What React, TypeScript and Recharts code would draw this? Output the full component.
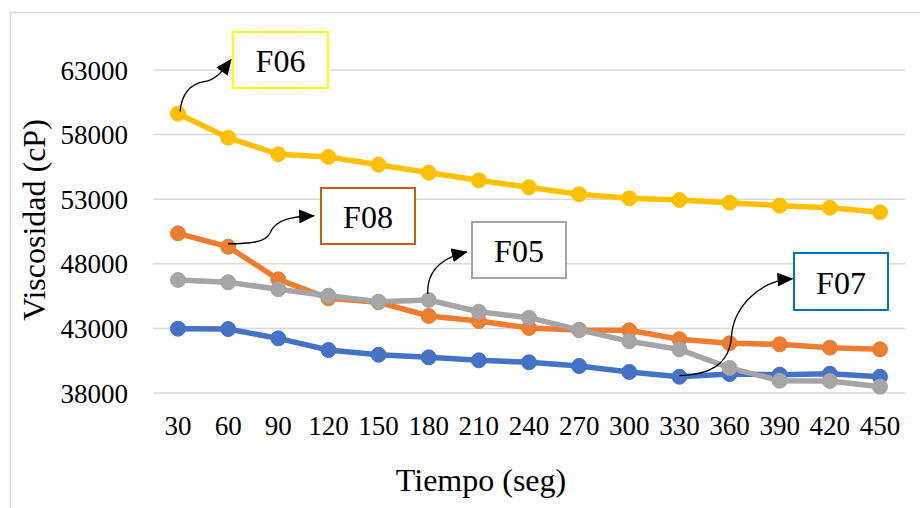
import { LineChart, Line, XAxis, YAxis, CartesianGrid } from "recharts";

// Viscosity (cP) readings over time (s) for four formulations
const tiempo = [30, 60, 90, 120, 150, 180, 210, 240, 270, 300, 330, 360, 390, 420, 450];
const f07 = [42980, 42950, 42230, 41330, 40960, 40760, 40530, 40380, 40090, 39630, 39260, 39470, 39420, 39490, 39260];
const f08 = [50360, 49320, 46800, 45330, 45020, 43960, 43570, 43030, 42880, 42850, 42160, 41850, 41770, 41510, 41380];
const f06 = [59620, 57760, 56480, 56270, 55670, 55050, 54460, 53920, 53380, 53070, 52940, 52730, 52500, 52340, 51990];
const f05 = [46750, 46570, 46030, 45530, 45070, 45200, 44290, 43830, 42880, 42000, 41380, 39940, 38950, 38930, 38490];

const yTicks = [38000, 43000, 48000, 53000, 58000, 63000];

const W = 920;
const H = 508;
const M = { top: 70, right: 15, left: 0, bottom: 0 };
const Y_AXIS_W = 153;
const X_AXIS_H = 115;
const FONT = '"Liberation Serif", "Times New Roman", serif';

const data = tiempo.map((t, i) => ({
  t,
  F07: f07[i],
  F08: f08[i],
  F06: f06[i],
  F05: f05[i],
}));

// plot box, used to pin callout arrows to their points
const plotLeft = M.left + Y_AXIS_W;
const plotRight = W - M.right;
const plotTop = M.top;
const plotBottom = H - M.bottom - X_AXIS_H;
const PAD = 25;
const step = (plotRight - plotLeft - 2 * PAD) / (tiempo.length - 1);
const px = (i: number) => plotLeft + PAD + step * i;
const py = (v: number) =>
  plotTop + ((yTicks[yTicks.length - 1] - v) / (yTicks[yTicks.length - 1] - yTicks[0])) * (plotBottom - plotTop);

function Callout({ x, y, w, h, color, text }: { x: number; y: number; w: number; h: number; color: string; text: string }) {
  return (
    <g>
      <rect x={x} y={y} width={w} height={h} fill="#fff" stroke={color} strokeWidth={2} />
      <text x={x + w / 2} y={y + h / 2 + 1} textAnchor="middle" dominantBaseline="central" fontSize={32} fontFamily={FONT} fill="#000">
        {text}
      </text>
    </g>
  );
}

export default function App() {
  const a06 = { x: px(0), y: py(f06[0]) };
  const a08 = { x: px(1), y: py(f08[1]) };
  const a05 = { x: px(5), y: py(f05[5]) };
  const a07 = { x: px(10), y: py(f07[10]) };

  const series = [
    { key: "F07", color: "#4472C4" },
    { key: "F08", color: "#ED7D31" },
    { key: "F06", color: "#FFC000" },
    { key: "F05", color: "#A5A5A5" },
  ];

  return (
    <div style={{ position: "absolute", left: 0, top: 0, width: W, height: H, background: "#fff" }}>
      <LineChart width={W} height={H} data={data} margin={M}>
        <CartesianGrid vertical={false} stroke="#D9D9D9" strokeWidth={1.5} />
        <XAxis
          dataKey="t"
          height={X_AXIS_H}
          axisLine={false}
          tickLine={false}
          tickSize={0}
          tickMargin={23}
          interval={0}
          padding={{ left: PAD, right: PAD }}
          tick={{ fontSize: 27, fontFamily: FONT, fill: "#000" }}
        />
        <YAxis
          type="number"
          width={Y_AXIS_W}
          domain={[yTicks[0], yTicks[yTicks.length - 1]]}
          ticks={yTicks}
          interval={0}
          axisLine={false}
          tickLine={false}
          tickSize={0}
          tickMargin={25}
          tick={{ fontSize: 27, fontFamily: FONT, fill: "#000" }}
        />
        {series.map((s) => (
          <Line
            key={s.key}
            dataKey={s.key}
            stroke={s.color}
            strokeWidth={5.5}
            dot={{ r: 7.5, fill: s.color, stroke: s.color, strokeWidth: 1 }}
            activeDot={false}
            isAnimationActive={false}
          />
        ))}
      </LineChart>

      <svg width={W} height={H} style={{ position: "absolute", left: 0, top: 0, pointerEvents: "none" }}>
        <defs>
          <marker id="head" markerUnits="userSpaceOnUse" markerWidth={16} markerHeight={14} refX={15} refY={7} orient="auto">
            <path d="M0,0 L16,7 L0,14 Z" fill="#000" />
          </marker>
        </defs>

        {/* chart area frame */}
        <rect x={10.5} y={12.5} width={1000} height={1000} fill="none" stroke="#D9D9D9" strokeWidth={1.5} />

        <text x={481} y={491} textAnchor="middle" fontSize={32} fontFamily={FONT} fill="#000">
          Tiempo (seg)
        </text>
        <text
          x={34}
          y={220}
          textAnchor="middle"
          dominantBaseline="central"
          fontSize={32}
          fontFamily={FONT}
          fill="#000"
          transform="rotate(-90 34 220)"
        >
          Viscosidad (cP)
        </text>

        <g fill="none" stroke="#000" strokeWidth={1.3}>
          <path d={`M${a06.x + 2},${a06.y - 2} C${a06.x + 4},${a06.y - 22} ${a06.x + 14},${a06.y - 30} ${a06.x + 26},${a06.y - 32} C${a06.x + 38},${a06.y - 34} ${a06.x + 44},${a06.y - 42} ${a06.x + 53},${a06.y - 54}`} markerEnd="url(#head)" />
          <path d={`M${a08.x},${a08.y - 3} C${a08.x + 20},${a08.y - 3} ${a08.x + 38},${a08.y - 4} ${a08.x + 42},${a08.y - 14} C${a08.x + 48},${a08.y - 28} ${a08.x + 64},${a08.y - 30} ${a08.x + 86},${a08.y - 31}`} markerEnd="url(#head)" />
          <path d={`M${a05.x - 1},${a05.y - 6} C${a05.x - 2},${a05.y - 28} ${a05.x + 12},${a05.y - 42} ${a05.x + 38},${a05.y - 48}`} markerEnd="url(#head)" />
          <path d={`M${a07.x},${a07.y - 1} C${a07.x + 30},${a07.y - 2} ${a07.x + 50},${a07.y - 12} ${a07.x + 52},${a07.y - 40} C${a07.x + 54},${a07.y - 70} ${a07.x + 80},${a07.y - 96} ${a07.x + 113},${a07.y - 98}`} markerEnd="url(#head)" />
        </g>

        <Callout x={233} y={32} w={95} h={56} color="#FFFF00" text="F06" />
        <Callout x={321} y={188} w={94} h={56} color="#C55A11" text="F08" />
        <Callout x={472} y={222} w={94} h={56} color="#A5A5A5" text="F05" />
        <Callout x={794} y={253} w={94} h={57} color="#0070C0" text="F07" />
      </svg>
    </div>
  );
}
